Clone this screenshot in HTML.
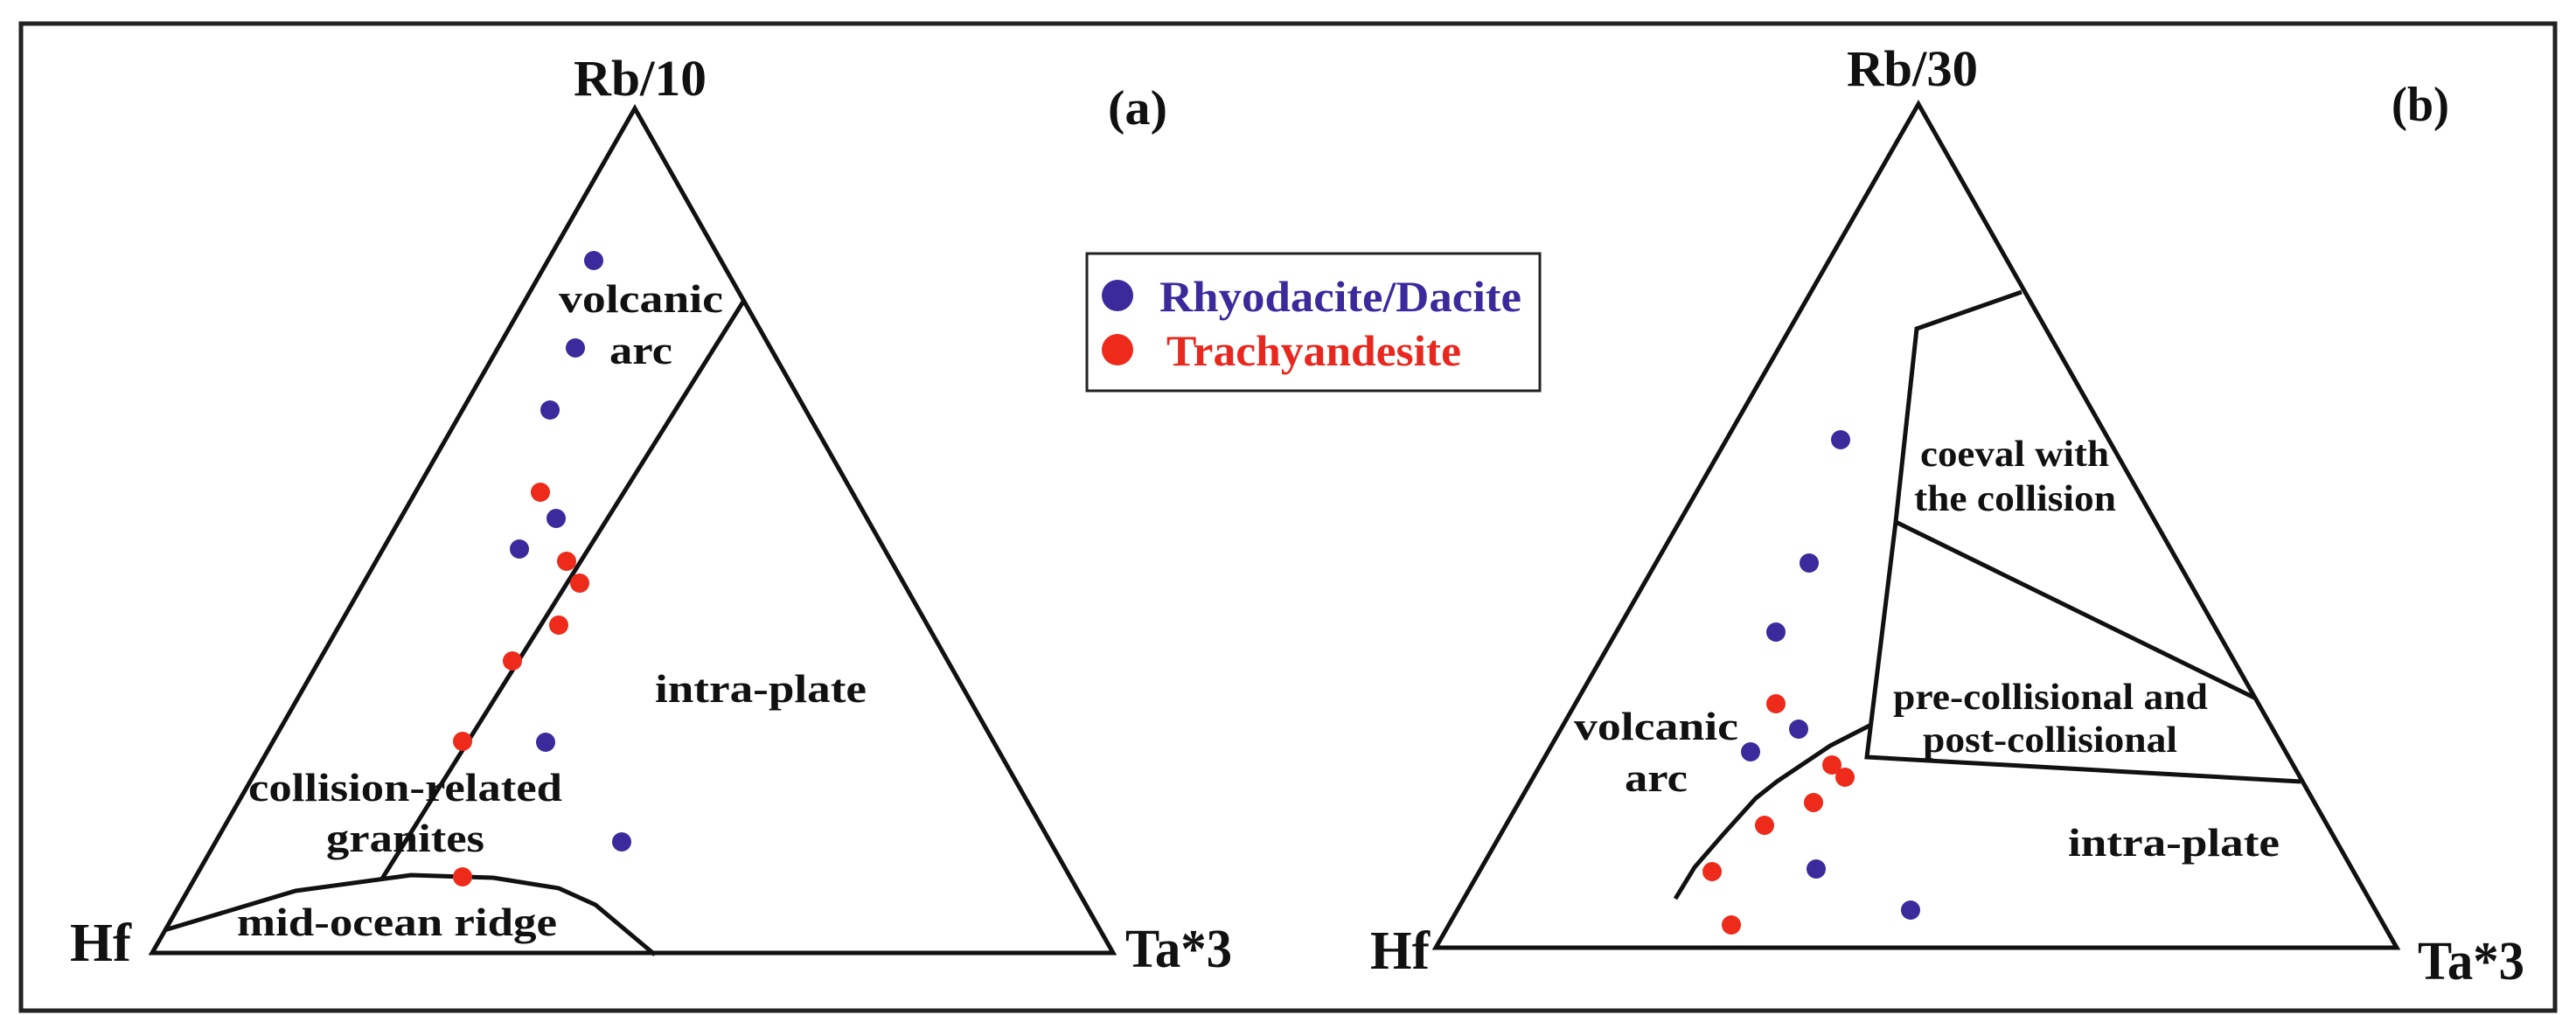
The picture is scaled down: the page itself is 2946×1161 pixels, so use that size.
<!DOCTYPE html>
<html><head><meta charset="utf-8"><style>
html,body{margin:0;padding:0;background:#fff;}
svg{display:block;}
text{font-family:"Liberation Serif",serif;font-weight:bold;fill:#111;}
</style></head><body>
<svg width="2946" height="1161" viewBox="0 0 2946 1161" xmlns="http://www.w3.org/2000/svg">
<rect x="24" y="27" width="2898" height="1129" fill="none" stroke="#222" stroke-width="5"/>
<g fill="none" stroke="#111" stroke-width="5" stroke-linejoin="miter">
<polygon points="726,124 174,1090 1273,1090"/>
<line x1="850" y1="345" x2="437" y2="1005"/>
<polyline points="188,1064 338,1019 470,1001 564,1004 639,1016 681,1035 749,1092"/>
<polygon points="2194,119 1642,1084 2741,1084"/>
<polyline points="2312,334 2192,376 2168,597 2135,866 2631,894"/>
<line x1="2168" y1="597" x2="2580" y2="799"/>
<polyline points="2138,830 2093,853 2032,894 2008,913 1971,954 1938,992 1916,1028"/>
</g>
<rect x="1243" y="290" width="518" height="157" fill="#fff" stroke="#222" stroke-width="3"/>
<circle cx="1278" cy="338" r="18" fill="#3b2a9c"/>
<circle cx="1278" cy="400" r="18" fill="#ee2a1a"/>
<text x="1326" y="356" font-size="50" textLength="414" lengthAdjust="spacingAndGlyphs" style="fill:#3b2a9c">Rhyodacite/Dacite</text>
<text x="1334" y="418" font-size="50" textLength="337" lengthAdjust="spacingAndGlyphs" style="fill:#e8281e">Trachyandesite</text>
<text x="656" y="109" font-size="58" textLength="152" lengthAdjust="spacingAndGlyphs">Rb/10</text>
<text x="1267" y="142" font-size="56" textLength="68" lengthAdjust="spacingAndGlyphs">(a)</text>
<text x="80" y="1099" font-size="62" textLength="70" lengthAdjust="spacingAndGlyphs">Hf</text>
<text x="1287" y="1106" font-size="62" textLength="122" lengthAdjust="spacingAndGlyphs">Ta*3</text>
<text x="639" y="357" font-size="46" textLength="188" lengthAdjust="spacingAndGlyphs">volcanic</text>
<text x="697" y="416" font-size="46" textLength="72" lengthAdjust="spacingAndGlyphs">arc</text>
<text x="749" y="803" font-size="46" textLength="242" lengthAdjust="spacingAndGlyphs">intra-plate</text>
<text x="284" y="916" font-size="46" textLength="359" lengthAdjust="spacingAndGlyphs">collision-related</text>
<text x="373" y="974" font-size="46" textLength="181" lengthAdjust="spacingAndGlyphs">granites</text>
<text x="271" y="1070" font-size="46" textLength="366" lengthAdjust="spacingAndGlyphs">mid-ocean ridge</text>
<text x="2112" y="98" font-size="58" textLength="150" lengthAdjust="spacingAndGlyphs">Rb/30</text>
<text x="2735" y="138" font-size="56" textLength="66" lengthAdjust="spacingAndGlyphs">(b)</text>
<text x="1567" y="1108" font-size="62" textLength="68" lengthAdjust="spacingAndGlyphs">Hf</text>
<text x="2765" y="1120" font-size="62" textLength="122" lengthAdjust="spacingAndGlyphs">Ta*3</text>
<text x="2196" y="533" font-size="42" textLength="216" lengthAdjust="spacingAndGlyphs">coeval with</text>
<text x="2189" y="584" font-size="42" textLength="231" lengthAdjust="spacingAndGlyphs">the collision</text>
<text x="2165" y="811" font-size="42" textLength="360" lengthAdjust="spacingAndGlyphs">pre-collisional and</text>
<text x="2199" y="860" font-size="42" textLength="291" lengthAdjust="spacingAndGlyphs">post-collisional</text>
<text x="1800" y="846" font-size="46" textLength="188" lengthAdjust="spacingAndGlyphs">volcanic</text>
<text x="1858" y="905" font-size="46" textLength="72" lengthAdjust="spacingAndGlyphs">arc</text>
<text x="2365" y="979" font-size="46" textLength="242" lengthAdjust="spacingAndGlyphs">intra-plate</text>
<g fill="#3b2a9c">
<circle cx="679" cy="298" r="11"/><circle cx="658" cy="398" r="11"/><circle cx="629" cy="469" r="11"/>
<circle cx="636" cy="593" r="11"/><circle cx="594" cy="628" r="11"/><circle cx="624" cy="849" r="11"/>
<circle cx="711" cy="963" r="11"/>
<circle cx="2105" cy="503" r="11"/><circle cx="2069" cy="644" r="11"/><circle cx="2031" cy="723" r="11"/>
<circle cx="2057" cy="834" r="11"/><circle cx="2002" cy="860" r="11"/><circle cx="2077" cy="994" r="11"/>
<circle cx="2185" cy="1041" r="11"/>
</g>
<g fill="#ee2a1a">
<circle cx="618" cy="563" r="11"/><circle cx="648" cy="642" r="11"/><circle cx="663" cy="667" r="11"/>
<circle cx="639" cy="715" r="11"/><circle cx="586" cy="756" r="11"/><circle cx="529" cy="848" r="11"/>
<circle cx="529" cy="1003" r="11"/>
<circle cx="2031" cy="805" r="11"/><circle cx="2095" cy="875" r="11"/><circle cx="2110" cy="889" r="11"/>
<circle cx="2074" cy="918" r="11"/><circle cx="2018" cy="944" r="11"/><circle cx="1958" cy="997" r="11"/>
<circle cx="1980" cy="1058" r="11"/>
</g>
</svg>
</body></html>
